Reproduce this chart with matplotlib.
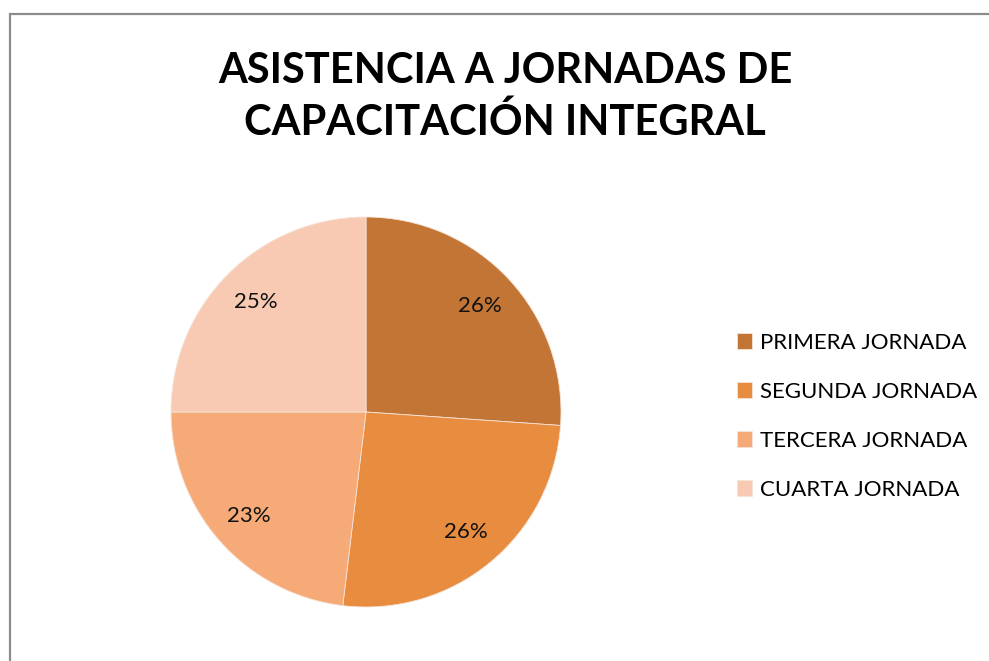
import matplotlib.pyplot as plt
from matplotlib.patches import Rectangle

# data
labels = ["PRIMERA JORNADA", "SEGUNDA JORNADA", "TERCERA JORNADA", "CUARTA JORNADA"]
values = [26.1, 25.8, 23.1, 25.0]
colors = ["#C27535", "#E88C40", "#F5AA78", "#F8CAB3"]

plt.rcParams['font.family'] = ['Lato', 'DejaVu Sans']

fig = plt.figure(figsize=(9.89, 6.61), dpi=100)

# chart frame (only top/left visible)
fig.add_artist(Rectangle((10 / 989, -0.1), 1.2, (661 - 14) / 661 + 0.1,
                         transform=fig.transFigure, fill=False,
                         edgecolor="#8C8C8C", linewidth=1.6))

fig.text(505 / 989, 1 - 97 / 661, "ASISTENCIA A JORNADAS DE\nCAPACITACIÓN INTEGRAL",
         ha="center", va="center", fontsize=30, fontweight="bold",
         linespacing=1.4, color="black")

ax = fig.add_axes([171 / 989, 54 / 661, 390 / 989, 390 / 661])
wedges, texts, autotexts = ax.pie(values, colors=colors, startangle=90, counterclock=False,
                                  autopct="%1.0f%%", pctdistance=0.8,
                                  wedgeprops=dict(edgecolor="#F6E3D6", linewidth=0.6),
                                  textprops=dict(fontsize=16, color="#111111"))
ax.set_xlim(-1, 1)
ax.set_ylim(-1, 1)
ax.set_aspect("equal")

fig.legend(wedges, labels, loc="upper left", bbox_to_anchor=(728 / 989, 1 - 324 / 661),
           frameon=False, fontsize=16, handlelength=0.7, handleheight=0.7,
           handletextpad=0.35, labelspacing=1.3, borderaxespad=0)

fig.savefig("out.png", dpi=100)
